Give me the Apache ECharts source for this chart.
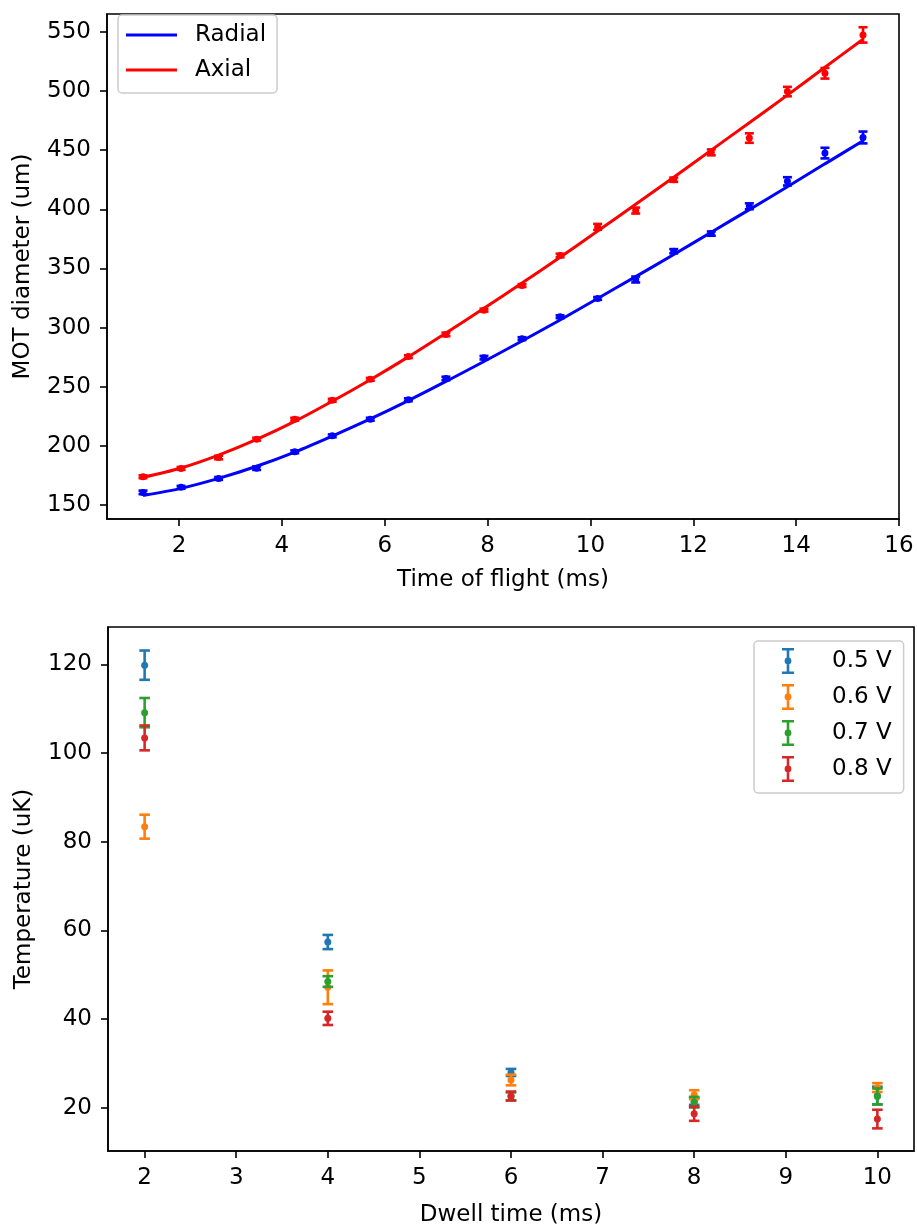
<!DOCTYPE html>
<html>
<head>
<meta charset="utf-8">
<script src="https://cdn.jsdelivr.net/npm/echarts@6.0.0/dist/echarts.min.js"></script>
<style>
html,body{margin:0;padding:0;background:#fff;}
#chart{width:917px;height:1231px;}
</style>
</head>
<body>
<div id="chart"></div>
<script>
// ---------- Top chart data (MOT diameter vs time of flight) ----------
var tofTimes = [1.3, 2.04, 2.77, 3.51, 4.25, 4.98, 5.72, 6.46, 7.19, 7.93, 8.67, 9.41, 10.14, 10.88, 11.62, 12.35, 13.09, 13.83, 14.56, 15.3];
var radialVals = [160.7, 165, 172.5, 181.2, 195, 208.5, 222.6, 239, 257, 274.6, 290.7, 309.2, 324.7, 340.7, 364.6, 379.5, 402.6, 423.7, 447.6, 460.8];
var radialErr  = [1.5, 1.2, 1.2, 1.5, 1.2, 1.2, 1.2, 1.2, 1.5, 1.5, 1.2, 1.2, 1.2, 2.5, 1.8, 1.8, 2.5, 3.5, 4.5, 5];
var axialVals  = [173.9, 181, 190.2, 205.7, 222.6, 238.6, 256.3, 275.5, 294.3, 314.8, 335.6, 361, 385.2, 399, 425.1, 448.2, 460.3, 499.6, 515.1, 547.5];
var axialErr   = [1.2, 1.2, 1.5, 1.2, 1.2, 1.2, 1.2, 1.2, 1.5, 1.2, 1.2, 1.5, 2.5, 2.5, 1.8, 2.5, 4, 4, 4.5, 6.5];
// fitted curves
var radialFit  = [158.0, 164.1, 172.5, 182.8, 194.8, 208.3, 222.8, 238.3, 254.5, 271.4, 288.7, 306.5, 324.7, 343.1, 361.8, 380.7, 399.8, 419.1, 438.5, 458.0];
var axialFit   = [173.4, 181.3, 192.2, 205.5, 220.8, 237.8, 256.0, 275.3, 295.5, 316.3, 337.7, 359.5, 381.7, 404.3, 427.1, 450.1, 473.3, 496.6, 520.2, 543.8];
var topXTicks = [2, 4, 6, 8, 10, 12, 14, 16];
var topYTicks = [150, 200, 250, 300, 350, 400, 450, 500, 550];

// ---------- Bottom chart data (Temperature vs dwell time) ----------
var dwellTimes = [2, 4, 6, 8, 10];
var voltLabels = ['0.5 V', '0.6 V', '0.7 V', '0.8 V'];
var temp05 = [119.8, 57.4, 28.0, 21.5, 22.8];
var err05  = [3.3, 1.6, 0.8, 0.8, 2.0];
var temp06 = [83.4, 47.2, 26.3, 23.0, 24.6];
var err06  = [2.7, 3.8, 1.2, 1.0, 1.0];
var temp07 = [109.1, 48.5, 22.6, 21.3, 22.6];
var err07  = [3.3, 1.2, 0.9, 1.2, 1.8];
var temp08 = [103.4, 40.2, 22.7, 18.7, 17.5];
var err08  = [2.8, 1.5, 1.0, 1.6, 2.1];
var botXTicks = [2, 3, 4, 5, 6, 7, 8, 9, 10];
var botYTicks = [20, 40, 60, 80, 100, 120];

var FONT = 'DejaVu Sans';
var voltColors = ['#1f77b4', '#ff7f0e', '#2ca02c', '#d62728'];

function triples(xs, ys, es) {
  return xs.map(function (x, i) { return [x, ys[i], es[i]]; });
}
function pairs(xs, ys) {
  return xs.map(function (x, i) { return [x, ys[i]]; });
}
function errRender(color, cap, lw) {
  return function (params, api) {
    var x = api.value(0), y = api.value(1), e = api.value(2);
    var p1 = api.coord([x, y - e]);
    var p2 = api.coord([x, y + e]);
    var st = { stroke: color, lineWidth: lw, fill: null };
    return {
      type: 'group',
      children: [
        { type: 'line', shape: { x1: p1[0], y1: p1[1], x2: p2[0], y2: p2[1] }, style: st },
        { type: 'line', shape: { x1: p1[0] - cap, y1: p1[1], x2: p1[0] + cap, y2: p1[1] }, style: st },
        { type: 'line', shape: { x1: p2[0] - cap, y1: p2[1], x2: p2[0] + cap, y2: p2[1] }, style: st }
      ]
    };
  };
}

function valueAxis(gridIndex, min, max, ticks, name, nameGap, pos) {
  return {
    type: 'value', gridIndex: gridIndex, min: min, max: max, position: pos,
    name: name, nameLocation: 'middle', nameGap: nameGap,
    nameTextStyle: { fontFamily: FONT, fontSize: 23, color: '#000' },
    axisLine: { show: true, onZero: false, lineStyle: { color: '#000', width: 1.6 } },
    axisTick: { show: true, inside: false, length: 7, customValues: ticks, lineStyle: { color: '#000', width: 1.6 } },
    axisLabel: { show: true, margin: 16, customValues: ticks, fontFamily: FONT, fontSize: 23, color: '#000' },
    splitLine: { show: false }
  };
}

var errIcon = 'path://M0 0H12V2.6H0Z M4.7 0H7.3V26H4.7Z M0 23.4H12V26H0Z M2.6 13A3.4 3.4 0 1 1 9.4 13A3.4 3.4 0 1 1 2.6 13Z';

var series = [];
// top chart: fit lines
series.push({
  name: 'Radial', type: 'line', xAxisIndex: 0, yAxisIndex: 0,
  data: pairs(tofTimes, radialFit), smooth: 0.3, showSymbol: false, symbol: 'none',
  lineStyle: { color: '#0000ff', width: 3 }, itemStyle: { color: '#0000ff' }, z: 3, silent: true
});
series.push({
  name: 'Axial', type: 'line', xAxisIndex: 0, yAxisIndex: 0,
  data: pairs(tofTimes, axialFit), smooth: 0.3, showSymbol: false, symbol: 'none',
  lineStyle: { color: '#ff0000', width: 3 }, itemStyle: { color: '#ff0000' }, z: 3, silent: true
});
// top chart: data points and error bars
[[radialVals, radialErr, '#0000ff', 'Radial data'], [axialVals, axialErr, '#ff0000', 'Axial data']].forEach(function (s) {
  series.push({
    name: s[3] + ' err', type: 'custom', xAxisIndex: 0, yAxisIndex: 0,
    data: triples(tofTimes, s[0], s[1]), encode: { x: 0, y: 1 },
    renderItem: errRender(s[2], 4.5, 2.6), z: 2, silent: true
  });
  series.push({
    name: s[3], type: 'scatter', xAxisIndex: 0, yAxisIndex: 0,
    data: pairs(tofTimes, s[0]), symbol: 'circle', symbolSize: 7,
    itemStyle: { color: s[2], opacity: 1 }, z: 2, silent: true
  });
});
// bottom chart
var temps = [temp05, temp06, temp07, temp08];
var errs = [err05, err06, err07, err08];
voltLabels.forEach(function (lab, i) {
  series.push({
    name: lab, type: 'custom', xAxisIndex: 1, yAxisIndex: 1,
    data: triples(dwellTimes, temps[i], errs[i]), encode: { x: 0, y: 1 },
    renderItem: errRender(voltColors[i], 5.3, 2.6), itemStyle: { color: voltColors[i] },
    z: 2 + i * 0.1, silent: true
  });
  series.push({
    name: lab, type: 'scatter', xAxisIndex: 1, yAxisIndex: 1,
    data: pairs(dwellTimes, temps[i]), symbol: 'circle', symbolSize: 7,
    itemStyle: { color: voltColors[i], opacity: 1 }, z: 2 + i * 0.1 + 0.05, silent: true
  });
});

var option = {
  backgroundColor: '#fff',
  animation: false,
  textStyle: { fontFamily: FONT },
  grid: [
    { left: 107, top: 14, right: 18, bottom: 712, show: true, borderColor: '#000', borderWidth: 1.6, backgroundColor: 'transparent' },
    { left: 108, top: 627, right: 3, bottom: 80, show: true, borderColor: '#000', borderWidth: 1.6, backgroundColor: 'transparent' }
  ],
  xAxis: [
    valueAxis(0, 0.6, 16.0, topXTicks, 'Time of flight (ms)', 50, 'bottom'),
    valueAxis(1, 1.6, 10.4, botXTicks, 'Dwell time (ms)', 53, 'bottom')
  ],
  yAxis: [
    valueAxis(0, 138.2, 565.2, topYTicks, 'MOT diameter (um)', 72, 'left'),
    valueAxis(1, 10.3, 128.4, botYTicks, 'Temperature (uK)', 72, 'left')
  ],
  legend: [
    {
      data: ['Radial', 'Axial'], orient: 'vertical', left: 118, top: 15,
      padding: [8, 11, 11, 8], itemGap: 11, itemWidth: 51, itemHeight: 3, icon: 'rect',
      borderColor: '#cccccc', borderWidth: 1.5, borderRadius: 4, backgroundColor: 'rgba(255,255,255,0.8)',
      textStyle: { fontFamily: FONT, fontSize: 23, color: '#000', lineHeight: 24, padding: [0, 0, 0, 13] },
      selectedMode: false
    },
    {
      data: voltLabels.map(function (l) { return { name: l, icon: errIcon }; }),
      orient: 'vertical', left: 754, top: 641,
      padding: [7, 12, 11, 28], itemGap: 10, itemWidth: 12, itemHeight: 26,
      borderColor: '#cccccc', borderWidth: 1.5, borderRadius: 4, backgroundColor: 'rgba(255,255,255,0.8)',
      textStyle: { fontFamily: FONT, fontSize: 23, color: '#000', lineHeight: 26, padding: [0, 0, 0, 33] },
      selectedMode: false
    }
  ],
  series: series
};

var chart = echarts.init(document.getElementById('chart'), null, { renderer: 'canvas', width: 917, height: 1231 });
chart.setOption(option);
</script>
</body>
</html>
